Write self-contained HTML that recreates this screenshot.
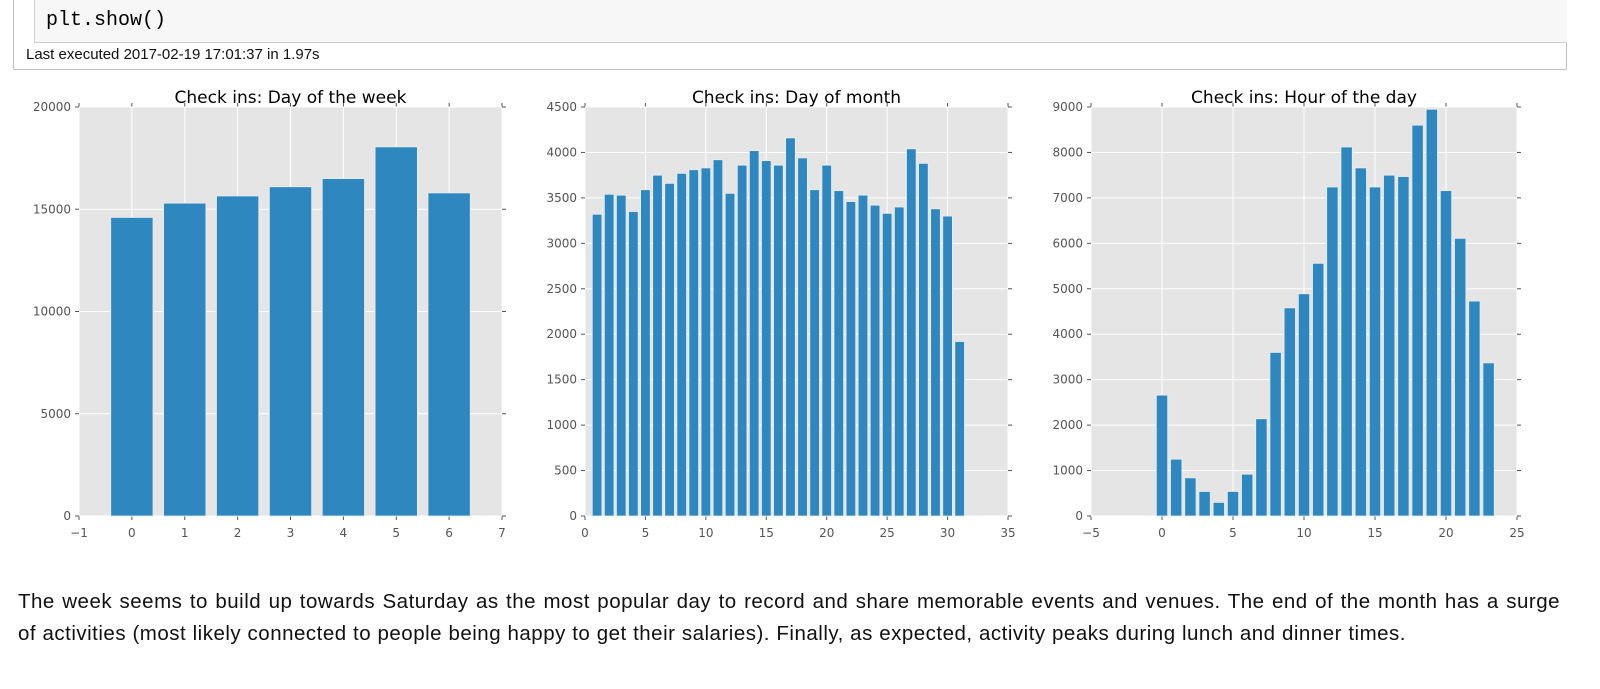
<!DOCTYPE html>
<html><head><meta charset="utf-8"><style>
body{margin:0;width:1600px;height:689px;background:#fff;overflow:hidden;font-family:"Liberation Sans",sans-serif;position:relative}
#cell{position:absolute;left:13px;top:-2px;width:1552px;height:70px;border:1px solid #bdbdbd;border-radius:2px;background:#fff}
#code{position:absolute;left:20px;top:0;width:1532px;height:43px;background:#f7f7f7;border-left:1px solid #cfcfcf;border-bottom:1px solid #cfcfcf}
#code span{position:absolute;left:11px;top:10px;font-family:"Liberation Mono",monospace;font-size:20px;color:#000}
#exec{position:absolute;left:12px;top:47px;font-size:15px;color:#111}
#para{position:absolute;left:18px;top:586px;font-size:20.5px;line-height:32px;color:#111;letter-spacing:0.5px}
#para span{display:block;text-align:justify;text-align-last:justify}
svg{position:absolute;left:0;top:0}
</style></head><body>
<div id="cell">
<div id="code"><span>plt.show()</span></div>
<div id="exec">Last executed 2017-02-19 17:01:37 in 1.97s</div>
</div>
<svg id="chart" width="1600" height="689"></svg>
<div id="para"><span style="width:1542px">The week seems to build up towards Saturday as the most popular day to record and share memorable events and venues. The end of the month has a surge</span><span style="width:1388px">of activities (most likely connected to people being happy to get their salaries). Finally, as expected, activity peaks during lunch and dinner times.</span></div>
<script>
const weekCats=[0,1,2,3,4,5,6];
const weekVals=[14600,15300,15650,16100,16500,18050,15800];
const weekXTicks=[-1,0,1,2,3,4,5,6,7];
const weekYTicks=[0,5000,10000,15000,20000];
const monthCats=[1,2,3,4,5,6,7,8,9,10,11,12,13,14,15,16,17,18,19,20,21,22,23,24,25,26,27,28,29,30,31];
const monthVals=[3320,3540,3530,3350,3590,3750,3660,3770,3810,3830,3920,3550,3860,4020,3910,3860,4160,3940,3590,3860,3580,3460,3530,3420,3330,3400,4040,3880,3380,3300,1920];
const monthXTicks=[0,5,10,15,20,25,30,35];
const monthYTicks=[0,500,1000,1500,2000,2500,3000,3500,4000,4500];
const hourCats=[0,1,2,3,4,5,6,7,8,9,10,11,12,13,14,15,16,17,18,19,20,21,22,23];
const hourVals=[2660,1250,840,540,300,540,920,2140,3600,4580,4890,5560,7240,8120,7660,7240,7500,7470,8600,8950,7160,6110,4730,3370];
const hourXTicks=[-5,0,5,10,15,20,25];
const hourYTicks=[0,1000,2000,3000,4000,5000,6000,7000,8000,9000];
const NS='http://www.w3.org/2000/svg';
const svg=document.getElementById('chart');
function mk(t,a){const e=document.createElementNS(NS,t);for(const k in a)e.setAttribute(k,a[k]);svg.appendChild(e);return e;}
function chart(id,title,L,R,T,B,xr,yr,cats,vals,xt,yt){
  const sx=v=>L+(v-xr[0])/(xr[1]-xr[0])*(R-L);
  const sy=v=>B-(v-yr[0])/(yr[1]-yr[0])*(B-T);
  const bg=mk('rect',{x:L,y:T,width:R-L,height:B-T,fill:'#e5e5e5'});
  
  
  xt.forEach(t=>{const x=sx(t);
    mk('line',{x1:x,x2:x,y1:T,y2:B,stroke:'#fff','stroke-width':1});
    mk('line',{x1:x,x2:x,y1:B,y2:B+4,stroke:'#555'});
    mk('line',{x1:x,x2:x,y1:T,y2:T-4,stroke:'#555'});
    const tx=mk('text',{x:x,y:B+21,'text-anchor':'middle','font-size':12,fill:'#555','font-family':'DejaVu Sans, sans-serif'});
    tx.textContent=t<0?'\u2212'+(-t):t;
    
    });
  yt.forEach(t=>{const y=sy(t);
    mk('line',{x1:L,x2:R,y1:y,y2:y,stroke:'#fff','stroke-width':1});
    mk('line',{x1:L-4,x2:L,y1:y,y2:y,stroke:'#555'});
    mk('line',{x1:R,x2:R+4,y1:y,y2:y,stroke:'#555'});
    const tx=mk('text',{x:L-8,y:y+4,'text-anchor':'end','font-size':12,fill:'#555','font-family':'DejaVu Sans, sans-serif'});
    tx.textContent=t;
    
    });
  cats.forEach((c,i)=>{const x0=sx(c-0.4),x1=sx(c+0.4),y=sy(vals[i]);
    const r=mk('rect',{x:x0,y:y,width:x1-x0,height:B-y,fill:'#2e88bf',stroke:'#e8eef2','stroke-width':0.8});
    
    });
  const tt=mk('text',{x:(L+R)/2,y:T-4,'text-anchor':'middle','font-size':17,fill:'#000','font-family':'DejaVu Sans, sans-serif'});
  tt.textContent=title;
  
  
}
chart('week-chart','Check ins: Day of the week',79,502,107,516,[-1,7],[0,20000],weekCats,weekVals,weekXTicks,weekYTicks);
chart('month-chart','Check ins: Day of month',585,1008,107,516,[0,35],[0,4500],monthCats,monthVals,monthXTicks,monthYTicks);
chart('hour-chart','Check ins: Hour of the day',1091,1517,107,516,[-5,25],[0,9000],hourCats,hourVals,hourXTicks,hourYTicks);
</script>
</body></html>
